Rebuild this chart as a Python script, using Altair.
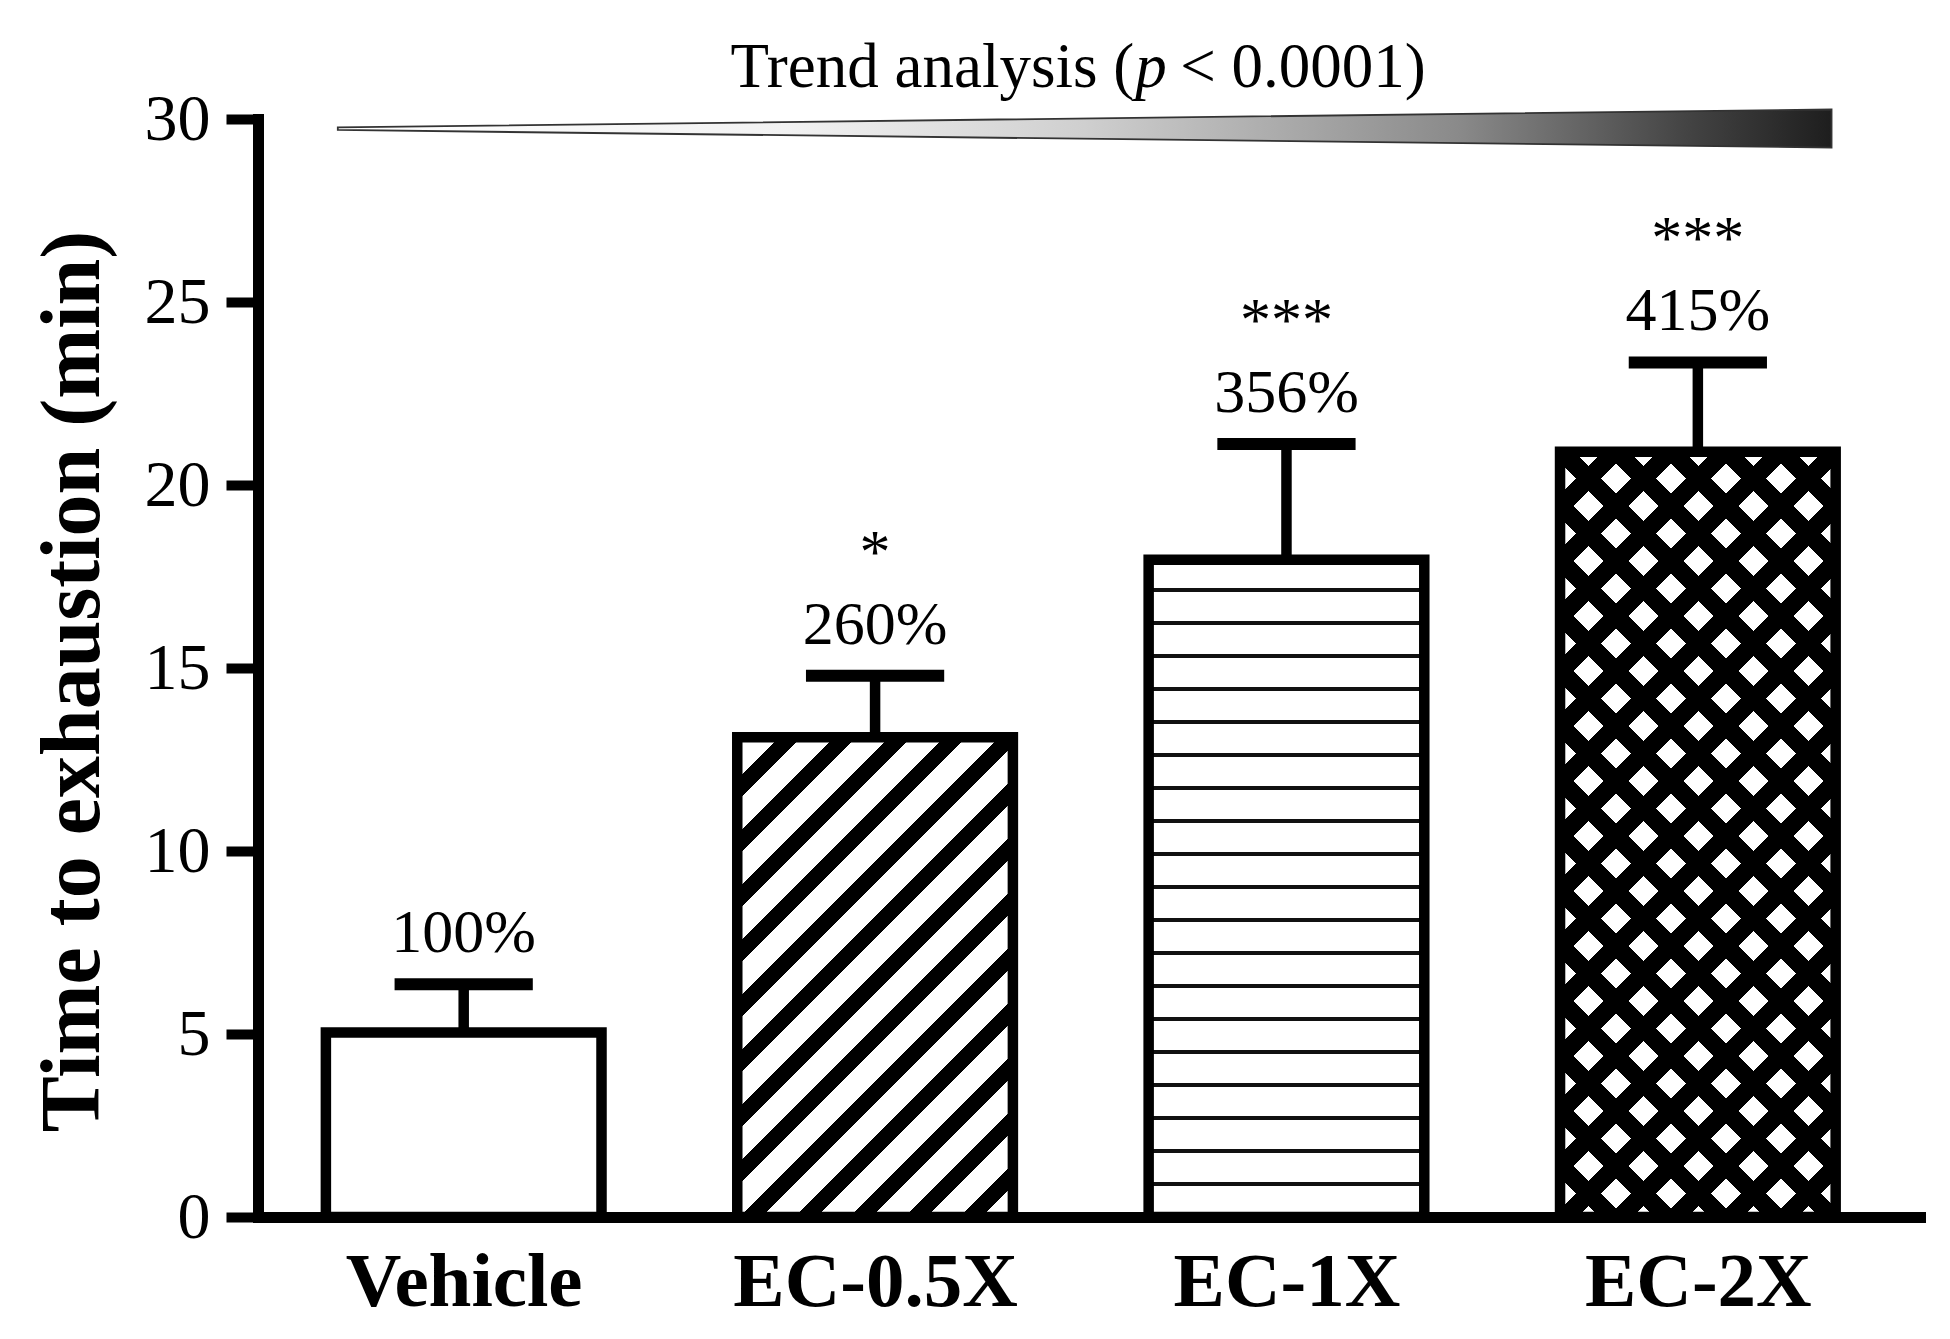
import math
import json
import altair as alt
import pandas as pd

# ---------------- data ----------------
categories = ["Vehicle", "EC-0.5X", "EC-1X", "EC-2X"]
positions = [0, 1, 2, 3]
means = [5.04, 13.11, 17.96, 20.91]
errors = [1.32, 1.68, 3.16, 2.44]
percent_labels = ["100%", "260%", "356%", "415%"]
stars = ["", "*", "***", "***"]
y_ticks = [0, 5, 10, 15, 20, 25, 30]

trend_x = [-0.306, 3.325]
trend_top = [29.77, 30.26]
trend_bottom = [29.70, 29.22]
trend_text_left = "Trend analysis ("
trend_text_p = "p"
trend_text_right = "< 0.0001)"
trend_text_x = 1.63
trend_text_y = 30.88

# ---------------- layout / style ----------------
W, H = 1662, 1098
X_DOMAIN = [-0.5, 3.54]
Y_DOMAIN = [0, 30]
BAR_HALF = 0.335
CAP_HALF = 0.168
FONT = "Liberation Serif"
px_x = W / (X_DOMAIN[1] - X_DOMAIN[0])
px_y = H / (Y_DOMAIN[1] - Y_DOMAIN[0])
bar_w = 2 * BAR_HALF * px_x


def band_stops(span, period, black, phase, on="#000000", off="#ffffff"):
    stops = [{"offset": 0.0, "color": off}]
    s = phase - period * math.ceil((phase + black) / period)
    while s < span:
        a, b = max(s, 0.0), min(s + black, span)
        if b > a:
            fa, fb = round(a / span, 5), round(b / span, 5)
            stops += [{"offset": fa, "color": off}, {"offset": fa, "color": on},
                      {"offset": fb, "color": on}, {"offset": fb, "color": off}]
        s += period
    stops.append({"offset": 1.0, "color": off})
    return stops


def diag_gradient(w, h, period, black, phase, up=True, on="#000000", off="#ffffff"):
    k = (w + h) / (w * w + h * h)
    gx, gy = w * k, h * k
    stops = band_stops(w + h, period, black, phase, on, off)
    if up:
        return {"gradient": "linear", "x1": 0, "y1": 0, "x2": gx, "y2": gy, "stops": stops}
    return {"gradient": "linear", "x1": 0, "y1": 1, "x2": gx, "y2": 1 - gy, "stops": stops}


df = pd.DataFrame({
    "cat": categories,
    "pos": positions,
    "mean": means,
    "err": errors,
    "pct": percent_labels,
    "star": stars,
})
df["top"] = df["mean"] + df["err"]
df["bl"] = df["pos"] - BAR_HALF
df["br"] = df["pos"] + BAR_HALF
df["lo"] = df["pos"] - CAP_HALF
df["hi"] = df["pos"] + CAP_HALF
df["base"] = 0.0

label_expr = json.dumps(categories) + "[datum.value]"

xscale = alt.Scale(domain=X_DOMAIN, nice=False, zero=False)
yscale = alt.Scale(domain=Y_DOMAIN, nice=False, zero=False)
xaxis = alt.Axis(values=positions, labelExpr=label_expr, title=None, grid=False,
                 ticks=False, domainColor="black", domainWidth=11, domainCap="square",
                 labelFont=FONT, labelFontSize=77, labelFontWeight="bold", labelColor="black",
                 labelBaseline="alphabetic", labelPadding=88, labelFlush=False,
                 labelOverlap=False, labelBound=False, labelLimit=0)
yaxis = alt.Axis(values=y_ticks, title="Time to exhaustion (min)", grid=False,
                 domainColor="black", domainWidth=11, domainCap="square",
                 tickColor="black", tickWidth=10, tickSize=32,
                 labelFont=FONT, labelFontSize=66, labelColor="black", labelPadding=16,
                 labelFlush=False, labelOverlap=False,
                 titleFont=FONT, titleFontSize=84, titleFontWeight="bold", titleColor="black",
                 titleAngle=270, titleAlign="center", titleBaseline="alphabetic",
                 titleX=-160, titleY=562, titleLimit=0)


def X(field):
    return alt.X(field, type="quantitative", scale=xscale, axis=xaxis)


def Y(field):
    return alt.Y(field, type="quantitative", scale=yscale, axis=yaxis)


base = alt.Chart(df)


def bar_layer(cat, fill, stroke=True):
    kw = dict(fill=fill)
    if stroke:
        kw.update(stroke="black", strokeWidth=10.5)
    else:
        kw.update(strokeWidth=0)
    return base.transform_filter(alt.datum.cat == cat).mark_bar(**kw).encode(
        x=X("bl"), x2="br", y=Y("mean"), y2="base")


h = {c: m * px_y for c, m in zip(categories, means)}

# EC-0.5X: "/" stripes
g05 = diag_gradient(bar_w, h["EC-0.5X"], 55, 22, 42, up=True)
# EC-1X: horizontal lines from the bottom
h1 = h["EC-1X"]
g1 = {"gradient": "linear", "x1": 0, "y1": 0, "x2": 0, "y2": 1,
      "stops": band_stops(h1, 33, 4, (h1 - 2) % 33, on="#111111")}
# EC-2X: cross hatch
h2 = h["EC-2X"]
g2a = diag_gradient(bar_w, h2, 55, 25, 42.7, up=True)
g2b = diag_gradient(bar_w, h2, 55, 25, (44.3 + h2) % 55, up=False,
                    off="rgba(255,255,255,0)")

layers = [
    bar_layer("Vehicle", "white"),
    bar_layer("EC-0.5X", g05),
    bar_layer("EC-1X", g1),
    bar_layer("EC-2X", g2a, stroke=False),
    bar_layer("EC-2X", g2b),
    base.mark_rule(color="black", strokeWidth=10.5).encode(x=X("pos"), y=Y("mean"), y2="top"),
    base.mark_rule(color="black", strokeWidth=12).encode(x=X("lo"), x2="hi", y=Y("top")),
    base.mark_text(font=FONT, fontSize=62, color="black", baseline="alphabetic", dy=-32).encode(
        x=X("pos"), y=Y("top"), text="pct:N"),
    base.mark_text(font=FONT, fontSize=62, color="black", baseline="alphabetic", dy=-104).encode(
        x=X("pos"), y=Y("top"), text="star:N"),
]

wedge_df = pd.DataFrame({"x": trend_x, "top": trend_top, "bot": trend_bottom})
wedge_fill = {"gradient": "linear", "x1": 0, "y1": 0, "x2": 1, "y2": 0,
              "stops": [{"offset": 0.0, "color": "#ffffff"},
                        {"offset": 0.3, "color": "#f2f2f2"},
                        {"offset": 0.5, "color": "#cfcfcf"},
                        {"offset": 0.75, "color": "#8a8a8a"},
                        {"offset": 0.9, "color": "#454545"},
                        {"offset": 1.0, "color": "#1e1e1e"}]}
layers.append(alt.Chart(wedge_df).mark_area(fill=wedge_fill, stroke="#333333", strokeWidth=1.8)
              .encode(x=X("x"), y=Y("top"), y2="bot"))

tdf = pd.DataFrame({"x": [trend_text_x], "y": [trend_text_y]})
tbase = alt.Chart(tdf)
layers += [
    tbase.mark_text(text=trend_text_left, font=FONT, fontSize=63, color="black",
                    align="right", baseline="alphabetic").encode(x=X("x"), y=Y("y")),
    tbase.mark_text(text=trend_text_p, font=FONT, fontSize=63, color="black", fontStyle="italic",
                    align="left", baseline="alphabetic", dx=1).encode(x=X("x"), y=Y("y")),
    tbase.mark_text(text=trend_text_right, font=FONT, fontSize=63, color="black",
                    align="left", baseline="alphabetic", dx=46).encode(x=X("x"), y=Y("y")),
]

chart = alt.layer(*layers).properties(
    width=W, height=H,
    autosize=alt.AutoSizeParams(type="none"),
    padding={"left": 250, "top": 111, "right": 20, "bottom": 110},
).configure_view(stroke=None)

chart.save("out.html", embed_options={"renderer": "svg", "actions": False})
